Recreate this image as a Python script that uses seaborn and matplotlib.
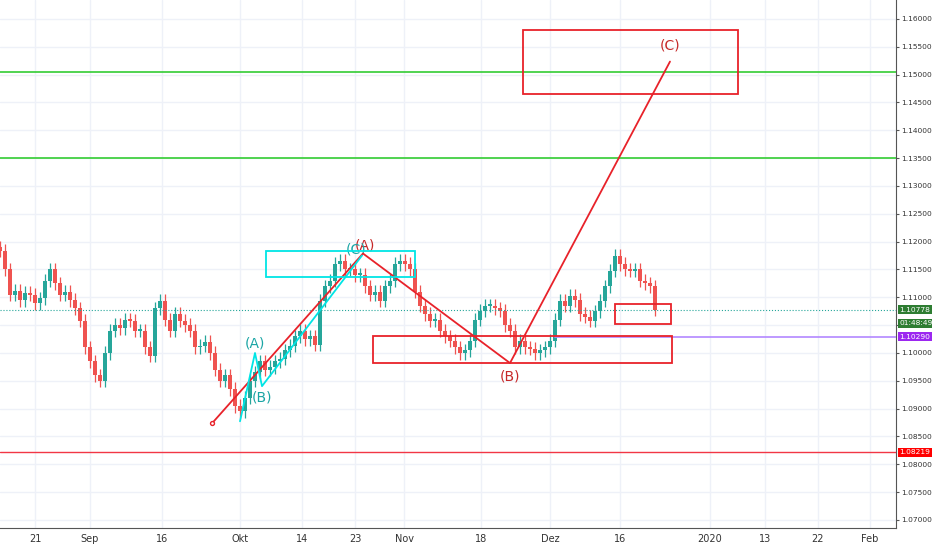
import matplotlib.pyplot as plt
import seaborn as sns
import numpy as np

sns.set_style("white")
plt.rcParams['font.family'] = ['DejaVu Sans']

# candle closes, one every 5 chart units from 0
closes = [1.1184, 1.1150, 1.1105, 1.1112, 1.1095, 1.1108, 1.1105, 1.1090, 1.1098, 1.1130,
          1.1150, 1.1125, 1.1105, 1.1110, 1.1095, 1.1080, 1.1058, 1.1010, 1.0985, 1.0960,
          1.0950, 1.1000, 1.1040, 1.1050, 1.1045, 1.1060, 1.1058, 1.1040, 1.1040, 1.1010,
          1.0995, 1.1080, 1.1094, 1.1060, 1.1040, 1.1070, 1.1058, 1.1050, 1.1040, 1.1010,
          1.1013, 1.1020, 1.1000, 1.0970, 1.0950, 1.0960, 1.0935, 1.0905, 1.0895, 1.0920,
          1.0950, 1.0965, 1.0985, 1.0970, 1.0975, 1.0985, 1.0990, 1.1005, 1.1013, 1.1030,
          1.1040, 1.1025, 1.1030, 1.1015, 1.1094, 1.1120, 1.1130, 1.1160, 1.1166, 1.1150,
          1.1150, 1.1140, 1.1140, 1.1120, 1.1105, 1.1110, 1.1094, 1.1120, 1.1130, 1.1160,
          1.1166, 1.1160, 1.1150, 1.1110, 1.1085, 1.1070, 1.1058, 1.1060, 1.1040, 1.1030,
          1.1022, 1.1010, 1.1000, 1.1005, 1.1022, 1.1060, 1.1076, 1.1085, 1.1085, 1.1080,
          1.1076, 1.1050, 1.1040, 1.1010, 1.1022, 1.1010, 1.1008, 1.1000, 1.1005, 1.1010,
          1.1022, 1.1060, 1.1094, 1.1085, 1.1103, 1.1095, 1.1070, 1.1065, 1.1058, 1.1075,
          1.1094, 1.1120, 1.1148, 1.1175, 1.1160, 1.1150, 1.1148, 1.1150, 1.1130, 1.1125,
          1.1120, 1.1078]
first_open = 1.1190
wick = 0.0012

date_pos = [35, 90, 162, 240, 302, 355, 404, 481, 550, 620, 710, 765, 818, 870]
date_labels = ['21', 'Sep', '16', 'Okt', '14', '23', 'Nov', '18', 'Dez', '16', '2020', '13', '22', 'Feb']
price_ticks = np.arange(1.070, 1.1601, 0.005)

red_wave_x = [212, 363, 510, 670]
red_wave_y = [1.08736, 1.11787, 1.09819, 1.15235]
cyan_wave_x = [240, 255, 262, 362]
cyan_wave_y = [1.08773, 1.1000, 1.09404, 1.11751]
# boxes: x0, x1, y0, y1, colour
boxes = [(266, 415, 1.11372, 1.11841, '#00e5e5'),
         (373, 672, 1.09819, 1.10307, '#e8222a'),
         (615, 671, 1.10523, 1.10884, '#e8222a'),
         (523, 738, 1.14657, 1.15794, '#e8222a')]
green_levels = [1.15054, 1.13502]
red_level = 1.08219
purple_level = 1.10290
last_price = 1.10778

fig = plt.figure(figsize=(9.32, 5.5), dpi=100)
ax = fig.add_axes([0, 22 / 550, 896 / 932, 528 / 550])
ax.set_xlim(0, 896)
ax.set_ylim(1.06856, 1.16341)

for p in price_ticks:
    ax.axhline(p, color='#eef1f8', lw=1, zorder=0)
for x in date_pos:
    ax.axvline(x, color='#eef1f8', lw=1, zorder=0)

xs = np.arange(len(closes)) * 5
opens = [first_open] + closes[:-1]
for x, o, c in zip(xs, opens, closes):
    col = '#26a69a' if c >= o else '#ef5350'
    ax.vlines(x, min(o, c) - wick, max(o, c) + wick, color=col, lw=0.9, zorder=2)
    ax.bar(x, max(abs(c - o), 0.0003), bottom=min(o, c), width=3.6, color=col,
           linewidth=0, zorder=3)

for lv in green_levels:
    ax.axhline(lv, color='#33cc33', lw=1.2, zorder=4)
ax.axhline(red_level, color='#f23645', lw=1, zorder=4)
ax.axhline(last_price, color='#26a69a', lw=0.8, ls=':', zorder=4)
ax.plot([555, 896], [purple_level, purple_level], color='#b388ff', lw=1.2, zorder=4)

sns.lineplot(x=red_wave_x, y=red_wave_y, ax=ax, color='#e8222a', lw=1.3, sort=False, zorder=5)
ax.scatter(red_wave_x[0], red_wave_y[0], s=8, facecolor='white', edgecolor='#e8222a', zorder=6)
sns.lineplot(x=cyan_wave_x, y=cyan_wave_y, ax=ax, color='#00e5e5', lw=1.3, sort=False, zorder=5)
for x0, x1, y0, y1, col in boxes:
    ax.add_patch(plt.Rectangle((x0, y0), x1 - x0, y1 - y0, fill=False, ec=col, lw=1.3, zorder=5))

ax.text(670, 1.1540, '(C)', color='#c62828', fontsize=10, ha='center', va='bottom')
ax.text(365, 1.1180, '(A)', color='#c62828', fontsize=10, ha='center', va='bottom')
ax.text(510, 1.0970, '(B)', color='#c62828', fontsize=10, ha='center', va='top')
ax.text(255, 1.1005, '(A)', color='#1aa5a5', fontsize=10, ha='center', va='bottom')
ax.text(262, 1.0933, '(B)', color='#1aa5a5', fontsize=10, ha='center', va='top')
ax.text(356, 1.1173, '(C)', color='#1aa5a5', fontsize=10, ha='center', va='bottom')

ax.set_xticks(date_pos)
ax.set_xticklabels(date_labels, fontsize=7, color='#333333')
ax.yaxis.tick_right()
ax.set_yticks(price_ticks)
ax.set_yticklabels([f'{p:.5f}' for p in price_ticks], fontsize=5.4, color='#333333')
ax.tick_params(axis='both', length=3, color='#555555', pad=1.2)
ax.tick_params(axis='y', length=2.5)
for s in ['top', 'left']:
    ax.spines[s].set_visible(False)
ax.spines['right'].set_color('#555555')
ax.spines['bottom'].set_color('#555555')

def tag(y, text, col):
    ax.text(1.0035, y, text, transform=ax.get_yaxis_transform(), fontsize=5.4, color='white',
            va='center', ha='left', bbox=dict(boxstyle='square,pad=0.2', fc=col, ec='none'), zorder=10)

tag(last_price, f'{last_price:.5f}', '#2e7d32')
tag(last_price - 0.0024, '01:48:49', '#2e7d32')
tag(purple_level, f'{purple_level:.5f}', '#9c27f0')
tag(red_level, f'{red_level:.5f}', '#ff0000')

fig.savefig('out.png', dpi=100)
